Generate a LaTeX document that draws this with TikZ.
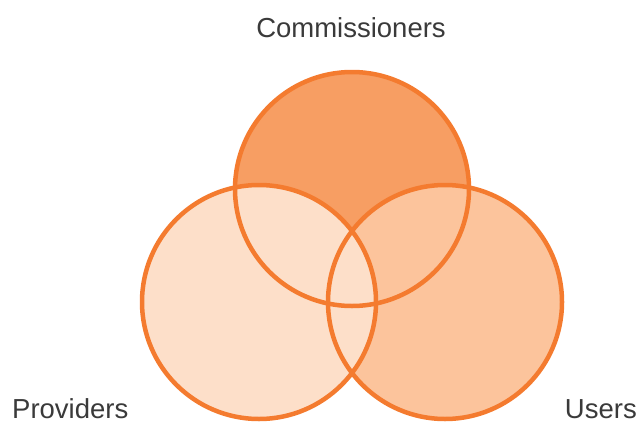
\documentclass[tikz,border=0pt]{standalone}
\usepackage{fontspec}
\setmainfont{Liberation Sans}
\definecolor{ringline}{HTML}{F47B2F}
\definecolor{fillcomm}{HTML}{F79E63}
\definecolor{fillusers}{HTML}{FCC49C}
\definecolor{fillprov}{HTML}{FDDFC9}
\definecolor{labeltext}{HTML}{3A3A3A}
\tikzset{
  ringedge/.style={draw=ringline, line width=4.5pt},
  setlabel/.style={text=labeltext, font=\fontsize{27.5}{32}\selectfont, inner sep=0pt},
}
\begin{document}
\begin{tikzpicture}[x=1pt,y=-1pt]
  \useasboundingbox (0,0) rectangle (640,423);
  % set centres
  \coordinate (cc) at (352,189);
  \coordinate (cp) at (259,302);
  \coordinate (cu) at (445,302);
  % fills: commissioners, users, providers (later ones cover the overlaps)
  \fill[fillcomm]  (cc) circle[radius=117];
  \fill[fillusers] (cu) circle[radius=117];
  \fill[fillprov]  (cp) circle[radius=117];
  % outlines on top
  \draw[ringedge] (cc) circle[radius=117];
  \draw[ringedge] (cu) circle[radius=117];
  \draw[ringedge] (cp) circle[radius=117];
  % labels
  \node[setlabel, anchor=base] (lc) at (351,37) {Commissioners};
  \node[setlabel, anchor=base west] (lp) at (12,418) {Providers};
  \node[setlabel, anchor=base east] (lu) at (637,418) {Users};
\end{tikzpicture}
\end{document}
